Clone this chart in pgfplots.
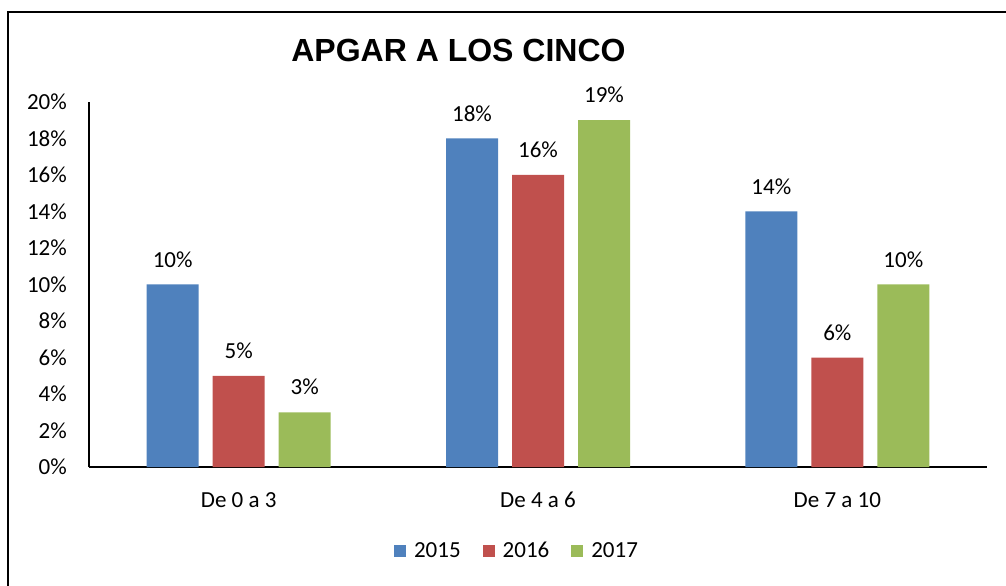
\documentclass[border=0pt]{standalone}
\usepackage{fontspec}
\setmainfont{Carlito}
\newfontfamily\titlefont{Liberation Sans}
\usepackage{pgfplots}
\pgfplotsset{compat=1.18}
\definecolor{c15}{HTML}{4F81BD}
\definecolor{c16}{HTML}{C0504D}
\definecolor{c17}{HTML}{9BBB59}
\begin{document}
\begin{tikzpicture}
\path[use as bounding box] (-89bp,-119bp) rectangle (917bp,467bp);
\begin{axis}[
 at={(0,0)}, anchor=south west,
 scale only axis, width=898bp, height=365bp,
 xmin=-0.5, xmax=2.5, ymin=0, ymax=20,
 axis x line*=bottom, axis y line*=left,
 axis line style={line width=1.3bp, -},
 xtick={0,1,2}, xticklabels={De 0 a 3, De 4 a 6, De 7 a 10},
 ytick={0,2,...,20}, yticklabel={\pgfmathprintnumber{\tick}\%},
 major tick length=0pt,
 /pgf/number format/assume math mode=true,
 tick label style={font=\fontsize{23bp}{27bp}\selectfont},
 yticklabel style={inner xsep=0pt, xshift=-22bp},
 xticklabel style={inner ysep=0pt, yshift=-25bp, anchor=north},
 ybar, bar width=52bp, clip=false,
 nodes near coords={\pgfmathprintnumber{\pgfplotspointmeta}\%},
 every node near coord/.append style={font=\fontsize{23bp}{27bp}\selectfont, inner sep=0pt, yshift=17bp, anchor=south},
 legend columns=-1,
 legend style={at={(0.4755,-0.23)}, anchor=center, draw=none, font=\fontsize{23bp}{27bp}\selectfont,
   nodes={inner sep=0pt},
   /tikz/every odd column/.append style={column sep=8bp},
   /tikz/every even column/.append style={column sep=22bp}},
 legend image code/.code={\fill[#1,draw=none] (0bp,-6bp) rectangle (12bp,6bp);},
]
\addplot[fill=c15, draw=none, bar shift=-66bp] coordinates {(0,10) (1,18) (2,14)};
\addplot[fill=c16, draw=none, bar shift=0bp] coordinates {(0,5) (1,16) (2,6)};
\addplot[fill=c17, draw=none, bar shift=66bp] coordinates {(0,3) (1,19) (2,10)};
\legend{2015,2016,2017}
\end{axis}
\draw[line width=1.6bp] (-81bp,-119bp) -- (-81bp,455bp) -- (917bp,455bp);
\node[anchor=base, font=\titlefont\bfseries\fontsize{32bp}{36bp}\selectfont, inner sep=0pt] at (369.5bp,405bp) {APGAR A LOS CINCO};
\end{tikzpicture}
\end{document}
